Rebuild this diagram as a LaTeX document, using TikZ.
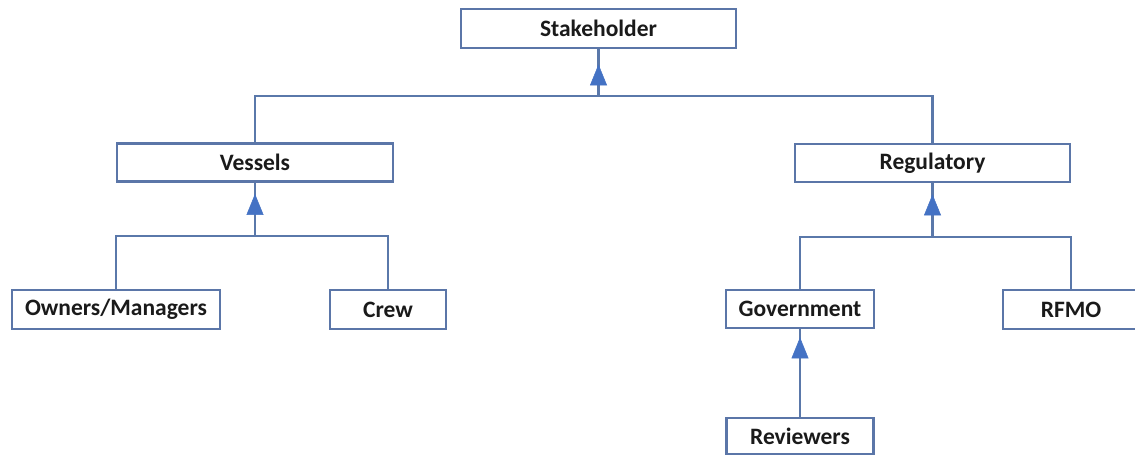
\documentclass[tikz,border=0pt]{standalone}
\usepackage{fontspec}
\setmainfont{Carlito}
\usetikzlibrary{arrows.meta,decorations.markings}
\definecolor{boxline}{HTML}{5B76A8}
\definecolor{connline}{HTML}{5A78AA}
\definecolor{arrowblue}{HTML}{4472C4}
\definecolor{txt}{HTML}{1A1A1A}
\tikzset{
  box/.style={draw=boxline, line width=2.8pt, fill=white, inner sep=0pt,
    font=\fontsize{23.5}{27}\selectfont\bfseries, text=txt},
  conn/.style={draw=connline, line width=2.8pt},
  arrowat/.style={postaction={decorate, decoration={markings,
    mark=at position #1 with {\arrow[fill=arrowblue, draw=arrowblue, line width=0.5pt]{Triangle[width=17pt,length=21pt]}}}}}
}
\begin{document}
\begin{tikzpicture}[x=1pt,y=-1pt]
\useasboundingbox (0,0) rectangle (1135,455);
\fill[white] (0,0) rectangle (1135,455);
\node[box, minimum width=275pt, minimum height=39pt] (sh) at (598.5,28.5) {Stakeholder};
\node[box, minimum width=276pt, minimum height=38pt] (ves) at (255,162.5) {Vessels};
\node[box, minimum width=275pt, minimum height=38pt] (reg) at (932.5,163) {Regulatory};
\node[box, minimum width=208pt, minimum height=39pt] (own) at (116,309.5) {Owners/Managers};
\node[box, minimum width=116pt, minimum height=39pt] (crew) at (388,309.5) {Crew};
\node[box, minimum width=148pt, minimum height=38pt] (gov) at (800,309) {Government};
\node[box, minimum width=136pt, minimum height=39pt] (rfmo) at (1071,309.5) {RFMO};
\node[box, minimum width=147pt, minimum height=36pt] (rev) at (800,436) {Reviewers};
\coordinate (j1) at (598.5,96);
\coordinate (j2) at (255,236);
\coordinate (j3) at (932.5,237);
\draw[conn] (ves.north) |- (j1) -| (reg.north);
\draw[conn, arrowat=-15pt] (j1) -- (sh.south);
\draw[conn] (own.north) |- (j2) -| (crew.north);
\draw[conn, arrowat=-11pt] (j2) -- (ves.south);
\draw[conn] (gov.north) |- (j3) -| (rfmo.north);
\draw[conn, arrowat=-11pt] (j3) -- (reg.south);
\draw[conn, arrowat=-8pt] (rev.north) -- (gov.south);
\end{tikzpicture}
\end{document}
